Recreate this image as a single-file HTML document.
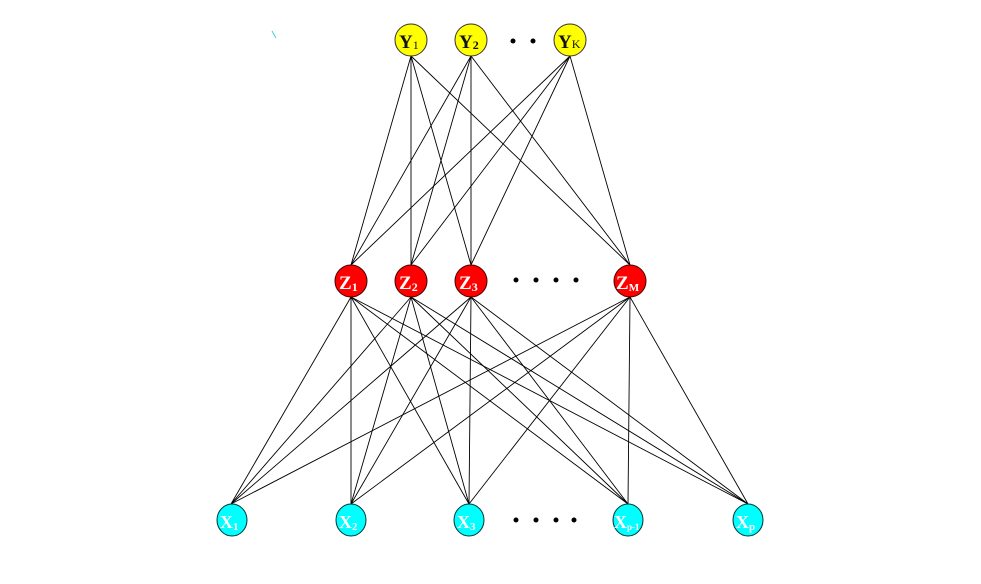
<!DOCTYPE html>
<html><head><meta charset="utf-8"><style>
html,body{margin:0;padding:0;background:#fff;width:981px;height:584px;overflow:hidden}
svg{display:block}
text{font-family:"Liberation Serif",serif;font-weight:bold}
</style></head><body>
<svg width="981" height="584" viewBox="0 0 981 584" xmlns="http://www.w3.org/2000/svg">
<g stroke="#000" stroke-width="0.9">
<line x1="411" y1="56" x2="351" y2="265"/><line x1="411" y1="56" x2="411" y2="265"/><line x1="411" y1="56" x2="471" y2="265"/><line x1="411" y1="56" x2="630" y2="265"/>
<line x1="471" y1="56" x2="351" y2="265"/><line x1="471" y1="56" x2="411" y2="265"/><line x1="471" y1="56" x2="471" y2="265"/><line x1="471" y1="56" x2="630" y2="265"/>
<line x1="570" y1="56" x2="351" y2="265"/><line x1="570" y1="56" x2="411" y2="265"/><line x1="570" y1="56" x2="471" y2="265"/><line x1="570" y1="56" x2="630" y2="265"/>
<line x1="351" y1="297" x2="231" y2="504"/><line x1="351" y1="297" x2="351" y2="504"/><line x1="351" y1="297" x2="469" y2="504"/><line x1="351" y1="297" x2="628" y2="504"/><line x1="351" y1="297" x2="748" y2="504"/>
<line x1="411" y1="297" x2="231" y2="504"/><line x1="411" y1="297" x2="351" y2="504"/><line x1="411" y1="297" x2="469" y2="504"/><line x1="411" y1="297" x2="628" y2="504"/><line x1="411" y1="297" x2="748" y2="504"/>
<line x1="471" y1="297" x2="231" y2="504"/><line x1="471" y1="297" x2="351" y2="504"/><line x1="471" y1="297" x2="469" y2="504"/><line x1="471" y1="297" x2="628" y2="504"/><line x1="471" y1="297" x2="748" y2="504"/>
<line x1="630" y1="297" x2="231" y2="504"/><line x1="630" y1="297" x2="351" y2="504"/><line x1="630" y1="297" x2="469" y2="504"/><line x1="630" y1="297" x2="628" y2="504"/><line x1="630" y1="297" x2="748" y2="504"/>
</g>
<line x1="272" y1="31" x2="276" y2="38" stroke="#40d0e0" stroke-width="1"/>
<g fill="#ffff00" stroke="#333" stroke-width="1">
<circle cx="411" cy="40" r="16"/><circle cx="471" cy="40" r="16"/><circle cx="570" cy="40" r="16"/>
</g>
<g fill="#000">
<circle cx="513" cy="41" r="2.5"/><circle cx="533" cy="41" r="2.5"/>
<circle cx="516" cy="280" r="2.5"/><circle cx="536" cy="280" r="2.5"/><circle cx="556" cy="280" r="2.5"/><circle cx="576" cy="280" r="2.5"/>
<circle cx="516" cy="520" r="2.5"/><circle cx="536" cy="520" r="2.5"/><circle cx="556" cy="520" r="2.5"/><circle cx="574" cy="520" r="2.5"/>
</g>
<g font-size="19" fill="#111">
<text x="399" y="48">Y<tspan font-size="12" font-weight="normal" dy="1">1</tspan></text>
<text x="459" y="48">Y<tspan font-size="12" dy="1">2</tspan></text>
<text x="558" y="48">Y<tspan font-size="12" font-weight="normal" dy="0">K</tspan></text>
</g>
<g fill="#ff0000" stroke="#400" stroke-width="1">
<circle cx="351" cy="281" r="16"/><circle cx="411" cy="281" r="16"/><circle cx="471" cy="281" r="16"/><circle cx="630" cy="281" r="16"/>
</g>
<g font-size="19" fill="#fff">
<text x="339" y="289">Z<tspan font-size="12" dy="2">1</tspan></text>
<text x="399" y="289">Z<tspan font-size="12" dy="2">2</tspan></text>
<text x="459" y="289">Z<tspan font-size="12" dy="2">3</tspan></text>
<text x="616" y="289">Z<tspan font-size="11" dy="2">M</tspan></text>
</g>
<g fill="#00ffff" stroke="#033" stroke-width="1">
<ellipse cx="232" cy="520" rx="15" ry="16"/><ellipse cx="351" cy="520" rx="15" ry="16"/><ellipse cx="469" cy="520" rx="15" ry="16"/><ellipse cx="628" cy="520" rx="15" ry="16"/><ellipse cx="748" cy="520" rx="15" ry="16"/>
</g>
<g font-size="18" fill="#fff">
<text x="220" y="528">X<tspan font-size="11" dy="2">1</tspan></text>
<text x="339" y="528">X<tspan font-size="11" dy="2">2</tspan></text>
<text x="457" y="528">X<tspan font-size="11" dy="2">3</tspan></text>
<text x="614" y="528">X<tspan font-size="9" dy="2">p-1</tspan></text>
<text x="736" y="528">X<tspan font-size="11" dy="2">p</tspan></text>
</g>
</svg>
</body></html>
